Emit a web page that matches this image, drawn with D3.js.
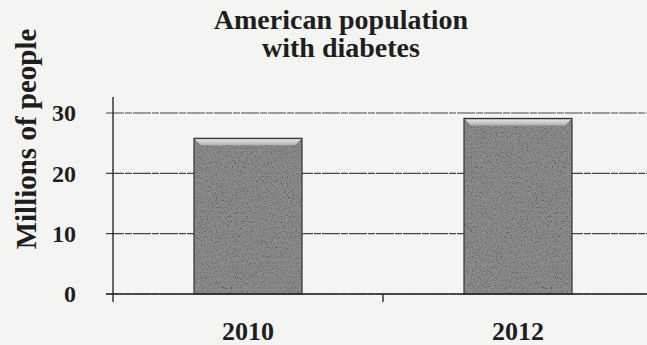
<!DOCTYPE html>
<html>
<head>
<meta charset="utf-8">
<script src="https://cdn.jsdelivr.net/npm/d3@7"></script>
<style>
  body { margin: 0; background: #f4f4f2; }
  svg text { font-family: "Liberation Serif", "Times New Roman", serif; font-weight: bold; fill: #1e1e1e; }
</style>
</head>
<body>
<script>
// chart data
var years = ["2010", "2012"];
var millions = [25.8, 29.1];
var yTicks = [0, 10, 20, 30];
var titleLines = ["American population", "with diabetes"];
var yTitle = "Millions of people";

var width = 647, height = 345;
var plotLeft = 113, plotRight = 653, plotTop = 113, plotBottom = 294;

var svg = d3.select("body").append("svg")
    .attr("width", width)
    .attr("height", height);

// grainy scan look for the bars
var defs = svg.append("defs");
var f = defs.append("filter").attr("id", "grain")
    .attr("x", 0).attr("y", 0).attr("width", 1).attr("height", 1);
f.append("feTurbulence").attr("type", "fractalNoise").attr("baseFrequency", 0.8)
    .attr("numOctaves", 2).attr("seed", 4).attr("result", "n");
f.append("feColorMatrix").attr("in", "n").attr("type", "saturate").attr("values", 0).attr("result", "g");
var ct = f.append("feComponentTransfer").attr("in", "g").attr("result", "g2");
["feFuncR", "feFuncG", "feFuncB"].forEach(function (c) {
  ct.append(c).attr("type", "linear").attr("slope", 2.4).attr("intercept", -0.25);
});
ct.append("feFuncA").attr("type", "linear").attr("slope", 0).attr("intercept", 1);
f.append("feBlend").attr("in", "SourceGraphic").attr("in2", "g2").attr("mode", "multiply").attr("result", "m");
f.append("feComposite").attr("in", "m").attr("in2", "SourceGraphic").attr("operator", "in");

var bevel = defs.append("linearGradient").attr("id", "bevel")
    .attr("x1", 0).attr("y1", 0).attr("x2", 0).attr("y2", 1);
bevel.append("stop").attr("offset", 0).attr("stop-color", "#f0f0ee");
bevel.append("stop").attr("offset", 1).attr("stop-color", "#b4b4b2");

var x = d3.scaleBand().domain(years).range([plotLeft, plotRight]);
var y = d3.scaleLinear().domain([0, 30]).range([plotBottom, plotTop]);

// gridlines
svg.append("g").selectAll("line")
  .data(yTicks)
  .enter().append("line")
    .attr("x1", plotLeft - 7).attr("x2", width)
    .attr("y1", function (d) { return y(d); })
    .attr("y2", function (d) { return y(d); })
    .attr("stroke", "#444")
    .attr("stroke-width", 1.2)
    .attr("stroke-dasharray", "18,1,7,1");

// y tick labels
svg.append("g").selectAll("text")
  .data(yTicks)
  .enter().append("text")
    .attr("x", 76)
    .attr("y", function (d) { return y(d); })
    .attr("dy", "0.35em")
    .attr("text-anchor", "end")
    .style("font-size", "24px")
    .text(function (d) { return d; });

// bars
var bw = x.bandwidth() * 0.4;
var bars = svg.append("g").selectAll("g")
  .data(years)
  .enter().append("g");

bars.append("rect")
    .attr("x", function (d) { return x(d) + (x.bandwidth() - bw) / 2; })
    .attr("y", function (d, i) { return y(millions[i]); })
    .attr("width", bw)
    .attr("height", function (d, i) { return y(0) - y(millions[i]); })
    .attr("fill", "#8c8c8c")
    .attr("filter", "url(#grain)");

bars.append("rect")
    .attr("x", function (d) { return x(d) + (x.bandwidth() - bw) / 2; })
    .attr("y", function (d, i) { return y(millions[i]); })
    .attr("width", bw)
    .attr("height", function (d, i) { return y(0) - y(millions[i]); })
    .attr("fill", "none")
    .attr("stroke", "#333")
    .attr("stroke-width", 1.2);

// light bevel along the top of each bar
bars.append("path")
    .attr("d", function (d, i) {
      var x0 = x(d) + (x.bandwidth() - bw) / 2 + 1, x1 = x0 + bw - 2, yt = y(millions[i]) + 1, b = 6;
      return "M" + x0 + "," + yt + "L" + x1 + "," + yt + "L" + (x1 - b) + "," + (yt + b) + "L" + (x0 + b) + "," + (yt + b) + "Z";
    })
    .attr("fill", "url(#bevel)")
    .attr("opacity", 0.9);

// axes
svg.append("line")
    .attr("x1", plotLeft).attr("x2", plotLeft)
    .attr("y1", plotTop - 16).attr("y2", plotBottom + 8)
    .attr("stroke", "#2a2a2a").attr("stroke-width", 1.4);
svg.append("line")
    .attr("x1", plotLeft - 7).attr("x2", width)
    .attr("y1", plotBottom).attr("y2", plotBottom)
    .attr("stroke", "#2a2a2a").attr("stroke-width", 1.4);
svg.append("line")
    .attr("x1", x(years[1])).attr("x2", x(years[1]))
    .attr("y1", plotBottom).attr("y2", plotBottom + 8)
    .attr("stroke", "#2a2a2a").attr("stroke-width", 1.4);

// x labels
svg.append("g").selectAll("text")
  .data(years)
  .enter().append("text")
    .attr("x", function (d) { return x(d) + x.bandwidth() / 2; })
    .attr("y", 340)
    .attr("text-anchor", "middle")
    .style("font-size", "26px")
    .text(function (d) { return d; });

// title
svg.append("g").selectAll("text")
  .data(titleLines)
  .enter().append("text")
    .attr("x", 341)
    .attr("y", function (d, i) { return 29 + i * 28; })
    .attr("text-anchor", "middle")
    .style("font-size", "28px")
    .text(function (d) { return d; });

// y axis title
svg.append("text")
    .attr("transform", "translate(36,139) rotate(-90)")
    .attr("text-anchor", "middle")
    .style("font-size", "29px")
    .text(yTitle);
</script>
</body>
</html>
